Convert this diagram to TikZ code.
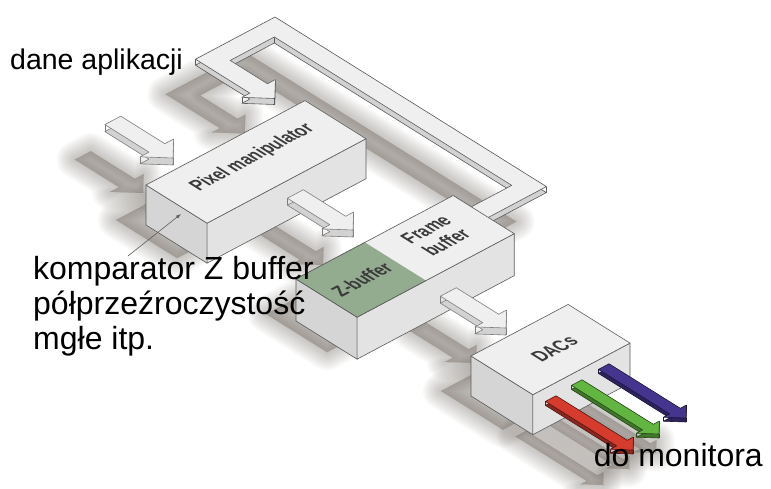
\documentclass[tikz,border=0pt]{standalone}
\usepackage{fontspec}
\setmainfont{Liberation Sans}
\usetikzlibrary{arrows.meta}
\definecolor{gfxtop}{HTML}{EFEFEF}
\definecolor{gfxfront}{HTML}{E3E3E3}
\definecolor{gfxleft}{HTML}{D5D5D5}
\definecolor{gfxside}{HTML}{D2D2D2}
\definecolor{gfxline}{HTML}{5C5C5C}
\definecolor{gfxshadow}{HTML}{6B5F57}
\definecolor{gfxzbuf}{HTML}{93AC8F}
\definecolor{gfxlabel}{HTML}{3A3A3A}
\definecolor{rgbred}{HTML}{D63C2E}
\definecolor{rgbgreen}{HTML}{62B540}
\definecolor{rgbblue}{HTML}{45358F}
\pgfdeclarelayer{ground}
\pgfsetlayers{ground,main}

% soft shadow on the ground, down and to the left
\newcommand{\castshadow}[1]{%
  \begin{pgfonlayer}{ground}
    \begin{scope}[shift={(-30pt,-35pt)}]
      \foreach \lw in {36,32,...,0}{\filldraw[softshade, line width=\lw pt] #1;}
    \end{scope}
  \end{pgfonlayer}}
% flat block arrow along +y, tip at the origin
\newcommand{\arrowoutline}[4]{(0,0,#4) -- (#3,-#3,#4) -- (#2,-#3,#4) -- (#2,-#3-#1,#4)
  -- (-#2,-#3-#1,#4) -- (-#2,-#3,#4) -- (-#3,-#3,#4) -- cycle}
% feedback strip from the frame buffer back to the pixel manipulator
\newcommand{\loopoutline}[1]{(-80,83,#1) -- (-61,64,#1) -- (-70,64,#1) -- (-70,20,#1)
  -- (-20,20,#1) -- (-20,300,#1) -- (-70,300,#1) -- (-70,320,#1) -- (0,320,#1)
  -- (0,0,#1) -- (-90,0,#1) -- (-90,64,#1) -- (-99,64,#1) -- cycle}
% box: pixel of back-left top corner, length, depth, height, name
\newcommand{\isobox}[6]{%
  \begin{scope}[shift={(#1pt,-#2pt)}, iso]
    \castshadow{(0,0,0) -- (#3,0,0) -- (#3,#4,0) -- (0,#4,0) -- cycle}
    \filldraw[outline, fill=gfxleft] (0,0,0) -- (0,#4,0) -- (0,#4,-#5) -- (0,0,-#5) -- cycle;
    \filldraw[outline, fill=gfxfront] (0,#4,0) -- (#3,#4,0) -- (#3,#4,-#5) -- (0,#4,-#5) -- cycle;
    \filldraw[outline, fill=gfxtop] (0,0,0) coordinate (#6) -- (#3,0,0) -- (#3,#4,0) -- (0,#4,0) -- cycle;
  \end{scope}}
% arrow: tip pixel, shaft, half width, head, thickness, top colour, side colour
\newcommand{\flatarrow}[8]{%
  \begin{scope}[shift={(#1pt,-#2pt)}, iso]
    \castshadow{\arrowoutline{#3}{#4}{#5}{0}}
    \filldraw[outline, draw=#8!60!black, fill=#8] \arrowoutline{#3}{#4}{#5}{-#6};
    \draw[outline, draw=#8!60!black] (0,0,0) -- (0,0,-#6) (#5,-#5,0) -- (#5,-#5,-#6)
      (-#5,-#5,0) -- (-#5,-#5,-#6) (-#4,-#5-#3,0) -- (-#4,-#5-#3,-#6);
    \filldraw[outline, draw=#8!60!black, fill=#7] \arrowoutline{#3}{#4}{#5}{0};
  \end{scope}}

\begin{document}
\begin{tikzpicture}[
  x=1pt, y=-1pt,
  iso/.style={x={(0.883pt,0.469pt)}, y={(0.848pt,-0.530pt)}, z={(0pt,1pt)}},
  outline/.style={draw=gfxline, line width=0.6pt, line join=round},
  softshade/.style={fill=gfxshadow, draw=gfxshadow, line join=round, opacity=0.045},
  facelabel/.style={transform shape, inner sep=0pt, align=center, text=gfxlabel,
    font=\bfseries\fontsize{21}{24}\selectfont, cm={0.662,0.352,-0.848,0.530,(0,0)}},
  caption/.style={inner sep=0pt, font=\fontsize{32}{35}\selectfont},
  leader/.style={draw=gfxline, line width=0.6pt, -{Latex[length=5pt,width=3.5pt]}}
]
  \begin{pgfonlayer}{ground}
    \fill[white] (0,0) rectangle (771,489);
  \end{pgfonlayer}
  \useasboundingbox (0,0) rectangle (771,489);

  % feedback loop
  \begin{scope}[shift={(275pt,-17pt)}, iso]
    \castshadow{\loopoutline{0}}
    \filldraw[outline, fill=gfxside] \loopoutline{-6};
    \draw[outline] (-80,83,0) -- (-80,83,-6) (-61,64,0) -- (-61,64,-6) (-99,64,0) -- (-99,64,-6)
      (-90,0,0) -- (-90,0,-6) (0,320,0) -- (0,320,-6) (-20,20,0) -- (-20,20,-6);
    \filldraw[outline, fill=gfxtop] \loopoutline{0};
  \end{scope}

  \flatarrow{173}{158}{52}{9}{19}{7}{gfxtop}{gfxside}
  \isobox{146}{185}{180}{72}{40}{pm}
  \flatarrow{353}{230}{50}{9}{18}{7}{gfxtop}{gfxside}
  \isobox{296}{279}{178}{72}{42}{fb}
  \begin{scope}[shift={(fb)}, iso]
    \fill[gfxzbuf] (0,0,0) -- (78,0,0) -- (78,72,0) -- (0,72,0) -- cycle;
    \draw[outline] (78,0,0) -- (0,0,0) -- (0,72,0) -- (78,72,0);
  \end{scope}
  \flatarrow{506}{328}{50}{9}{18}{7}{gfxtop}{gfxside}
  \isobox{471}{356}{110}{73}{40}{dac}
  \flatarrow{686}{418}{84}{6}{13}{4}{rgbblue}{rgbblue!65!black}
  \flatarrow{659}{434}{84}{6}{13}{4}{rgbgreen}{rgbgreen!65!black}
  \flatarrow{633}{450}{84}{6}{13}{4}{rgbred}{rgbred!65!black}

  % labels painted on the top faces
  \begin{scope}[shift={(pm)}, iso]
    \node[facelabel] (pmlabel) at (92,30,0) {Pixel manipulator};
  \end{scope}
  \begin{scope}[shift={(fb)}, iso]
    \node[facelabel] (zlabel) at (40,36,0) {Z-buffer};
    \node[facelabel] (fblabel) at (128,32,0) {Frame\\buffer};
  \end{scope}
  \begin{scope}[shift={(dac)}, iso]
    \node[facelabel] (daclabel) at (58,38,0) {DACs};
  \end{scope}

  \node[caption, anchor=base west, font=\fontsize{28.5}{30}\selectfont] (apptext) at (10,70) {dane aplikacji};
  \node[caption, anchor=north west, align=left] (cmptext) at (33,256)
    {komparator Z buffer\\półprzeźroczystość\\mgłe itp.};
  \node[caption, anchor=base east] (montext) at (763,466) {do monitora};

  \coordinate (leadfrom) at (128,256);
  \coordinate (leadto) at (181,214);
  \draw[leader] (leadfrom) -- (leadto);
\end{tikzpicture}
\end{document}
